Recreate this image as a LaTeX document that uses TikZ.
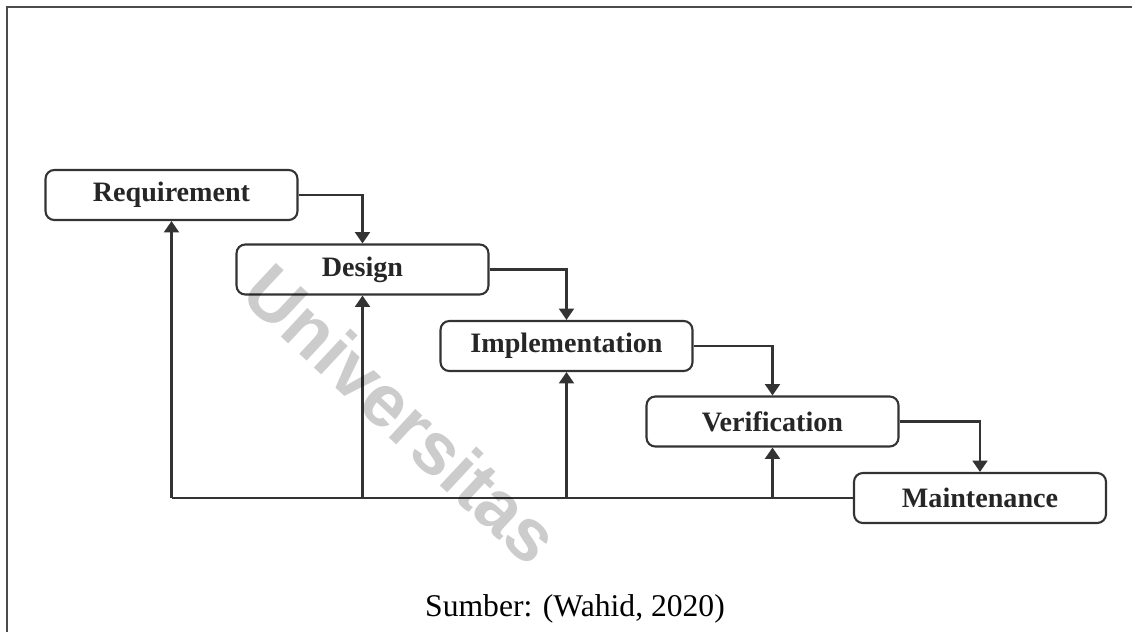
\documentclass[tikz,border=0pt]{standalone}
\usepackage{fontspec}
\setmainfont{Liberation Serif}
\setsansfont{Liberation Sans}
\usepackage{tikz}
\usetikzlibrary{arrows.meta}
\usetikzlibrary{positioning}

\begin{document}
\begin{tikzpicture}[x=0.02cm, y=-0.02cm,
  phase/.style={draw=black!80, line width=1.2pt, rectangle, rounded corners=5pt, fill=white,
    minimum width=5.04cm, minimum height=1.0cm, inner sep=0pt,
    font=\fontsize{16}{19}\selectfont\bfseries, text=black!85},
  flow/.style={draw=black!80, line width=1.4pt},
  >={Triangle[length=6.5pt,width=8.5pt]}]
\useasboundingbox (0,0) rectangle (1132,632);

% frame
\draw[line width=1.3pt, black!70] (7,632) -- (7,7) -- (1132,7);

% phases
\node[phase] (Requirement) at (171.5,195) {Requirement};
\node[phase] (Design) at (362.5,269.5) {Design};
\node[phase] (Implementation) at (566.5,346) {Implementation};
\node[phase] (Verification) at (772.5,421.5) {Verification};
\node[phase] (Maintenance) at (980,498) {Maintenance};

% waterfall
\draw[flow, ->] (Requirement.east) -| (Design.north);
\draw[flow, ->] (Design.east) -| (Implementation.north);
\draw[flow, ->] (Implementation.east) -| (Verification.north);
\draw[flow, ->] (Verification.east) -| (Maintenance.north);

% feedback
\draw[flow] (Maintenance.west) -- (Maintenance.west -| Requirement.south);
\draw[flow, ->] (Maintenance.west -| Requirement.south) -- (Requirement.south);
\draw[flow, ->] (Maintenance.west -| Design.south) -- (Design.south);
\draw[flow, ->] (Maintenance.west -| Implementation.south) -- (Implementation.south);
\draw[flow, ->] (Maintenance.west -| Verification.south) -- (Verification.south);

\node[font=\fontsize{18}{20}\selectfont, anchor=base] (Source) at (575,616) {Sumber: (Wahid, 2020)};

% watermark on top
\node[rotate=-43, text=black, text opacity=0.2, font=\fontsize{42}{44}\sffamily\bfseries] (Watermark) at (402,414) {Universitas};
\end{tikzpicture}
\end{document}
